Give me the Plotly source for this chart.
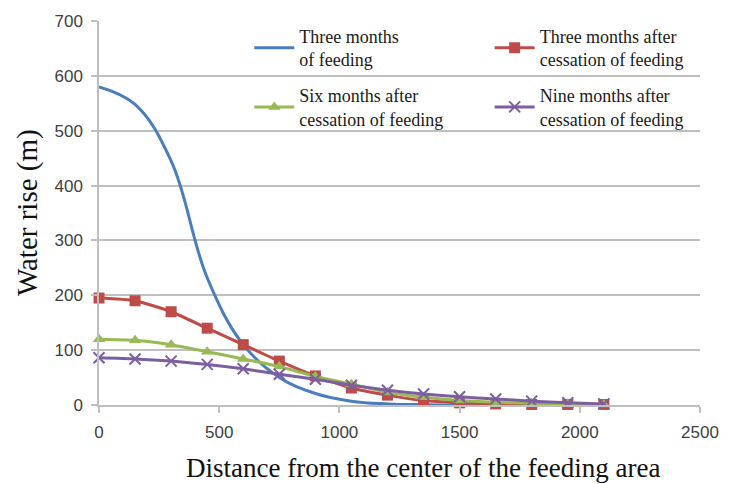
import plotly.graph_objects as go

# Distance from the center of the feeding area (m)
distance = [0, 150, 300, 450, 600, 750, 900, 1050, 1200, 1350, 1500, 1650, 1800, 1950, 2100]

# Water rise (m) for each period
three_months_feeding = [580, 548, 445, 232, 110, 50, 21, 7, 2, 0.5, 0, 0, 0, 0, 0]
three_months_after = [195, 190, 170, 140, 110, 80, 53, 31, 18, 8, 4, 2, 1, 1, 1]
six_months_after = [120, 118, 110, 97, 84, 70, 52, 38, 23, 14, 8, 5, 3, 2, 1]
nine_months_after = [86, 84, 80, 74, 66, 56, 47, 36, 27, 20, 15, 11, 7, 4, 2]

series_names = [
    "Three months<br>of feeding",
    "Three months after<br>cessation of feeding",
    "Six months after<br>cessation of feeding",
    "Nine months after<br>cessation of feeding",
]

x_ticks = [0, 500, 1000, 1500, 2000, 2500]
y_ticks = [0, 100, 200, 300, 400, 500, 600, 700]

BLUE = "#4A7EBB"
RED = "#BE4B48"
GREEN = "#98B954"
PURPLE = "#7D5FA0"
SERIF = "Liberation Serif"

fig = go.Figure()

fig.add_trace(go.Scatter(
    x=distance, y=three_months_feeding, name=series_names[0], mode="lines",
    line=dict(color=BLUE, width=3, shape="spline", smoothing=1.1),
    cliponaxis=False, legend="legend",
))
fig.add_trace(go.Scatter(
    x=distance, y=three_months_after, name=series_names[1], mode="lines+markers",
    line=dict(color=RED, width=3, shape="spline", smoothing=0.6),
    marker=dict(symbol="square", size=11, color=RED, line=dict(width=0)),
    cliponaxis=False, legend="legend2",
))
fig.add_trace(go.Scatter(
    x=distance, y=six_months_after, name=series_names[2], mode="lines+markers",
    line=dict(color=GREEN, width=3, shape="spline", smoothing=0.6),
    marker=dict(symbol="triangle-up", size=11, color=GREEN, line=dict(width=0)),
    cliponaxis=False, legend="legend3",
))
fig.add_trace(go.Scatter(
    x=distance, y=nine_months_after, name=series_names[3], mode="lines+markers",
    line=dict(color=PURPLE, width=3, shape="spline", smoothing=0.6),
    marker=dict(symbol="x-thin", size=11, color=PURPLE, line=dict(width=2, color=PURPLE)),
    cliponaxis=False, legend="legend4",
))


def legend_box(x, y):
    return dict(
        x=x, y=y, xanchor="left", yanchor="middle", bgcolor="rgba(0,0,0,0)",
        font=dict(family=SERIF, size=18, color="#1a1a1a"), itemwidth=40,
    )


fig.update_layout(
    width=731, height=484,
    margin=dict(l=99, r=22, t=21, b=79),
    paper_bgcolor="white", plot_bgcolor="white",
    font=dict(family=SERIF, color="#1a1a1a"),
    showlegend=True,
    legend=legend_box(0.25, 0.93),
    legend2=legend_box(0.65, 0.93),
    legend3=legend_box(0.25, 0.776),
    legend4=legend_box(0.65, 0.776),
    xaxis=dict(
        range=[0, 2500], tickvals=x_ticks, showgrid=False, zeroline=False,
        showline=True, linecolor="#BFBFBF", linewidth=1.5,
        ticks="outside", ticklen=6, tickcolor="#BFBFBF", tickwidth=1.5,
        ticklabelstandoff=5,
        tickfont=dict(family="Liberation Sans", size=17, color="#404040"),
    ),
    yaxis=dict(
        range=[0, 700], tickvals=y_ticks, showgrid=True, gridcolor="#BFBFBF", gridwidth=1.5,
        zeroline=False, showline=True, linecolor="#BFBFBF", linewidth=1.5,
        ticks="outside", ticklen=6, tickcolor="#BFBFBF", tickwidth=1.5,
        ticklabelstandoff=5,
        tickfont=dict(family="Liberation Sans", size=17, color="#404040"),
    ),
    annotations=[
        dict(text="Distance from the center of the feeding area", xref="paper", yref="paper",
             x=(428 - 99) / 610, y=(405 - 468) / 384, xanchor="center", yanchor="middle",
             showarrow=False, font=dict(family=SERIF, size=27, color="#111111")),
        dict(text="Water rise (m)", xref="paper", yref="paper",
             x=(26 - 99) / 610, y=(405 - 213) / 384, xanchor="center", yanchor="middle",
             textangle=-90, showarrow=False, font=dict(family=SERIF, size=29, color="#111111")),
    ],
)

fig.write_html("out.html")
